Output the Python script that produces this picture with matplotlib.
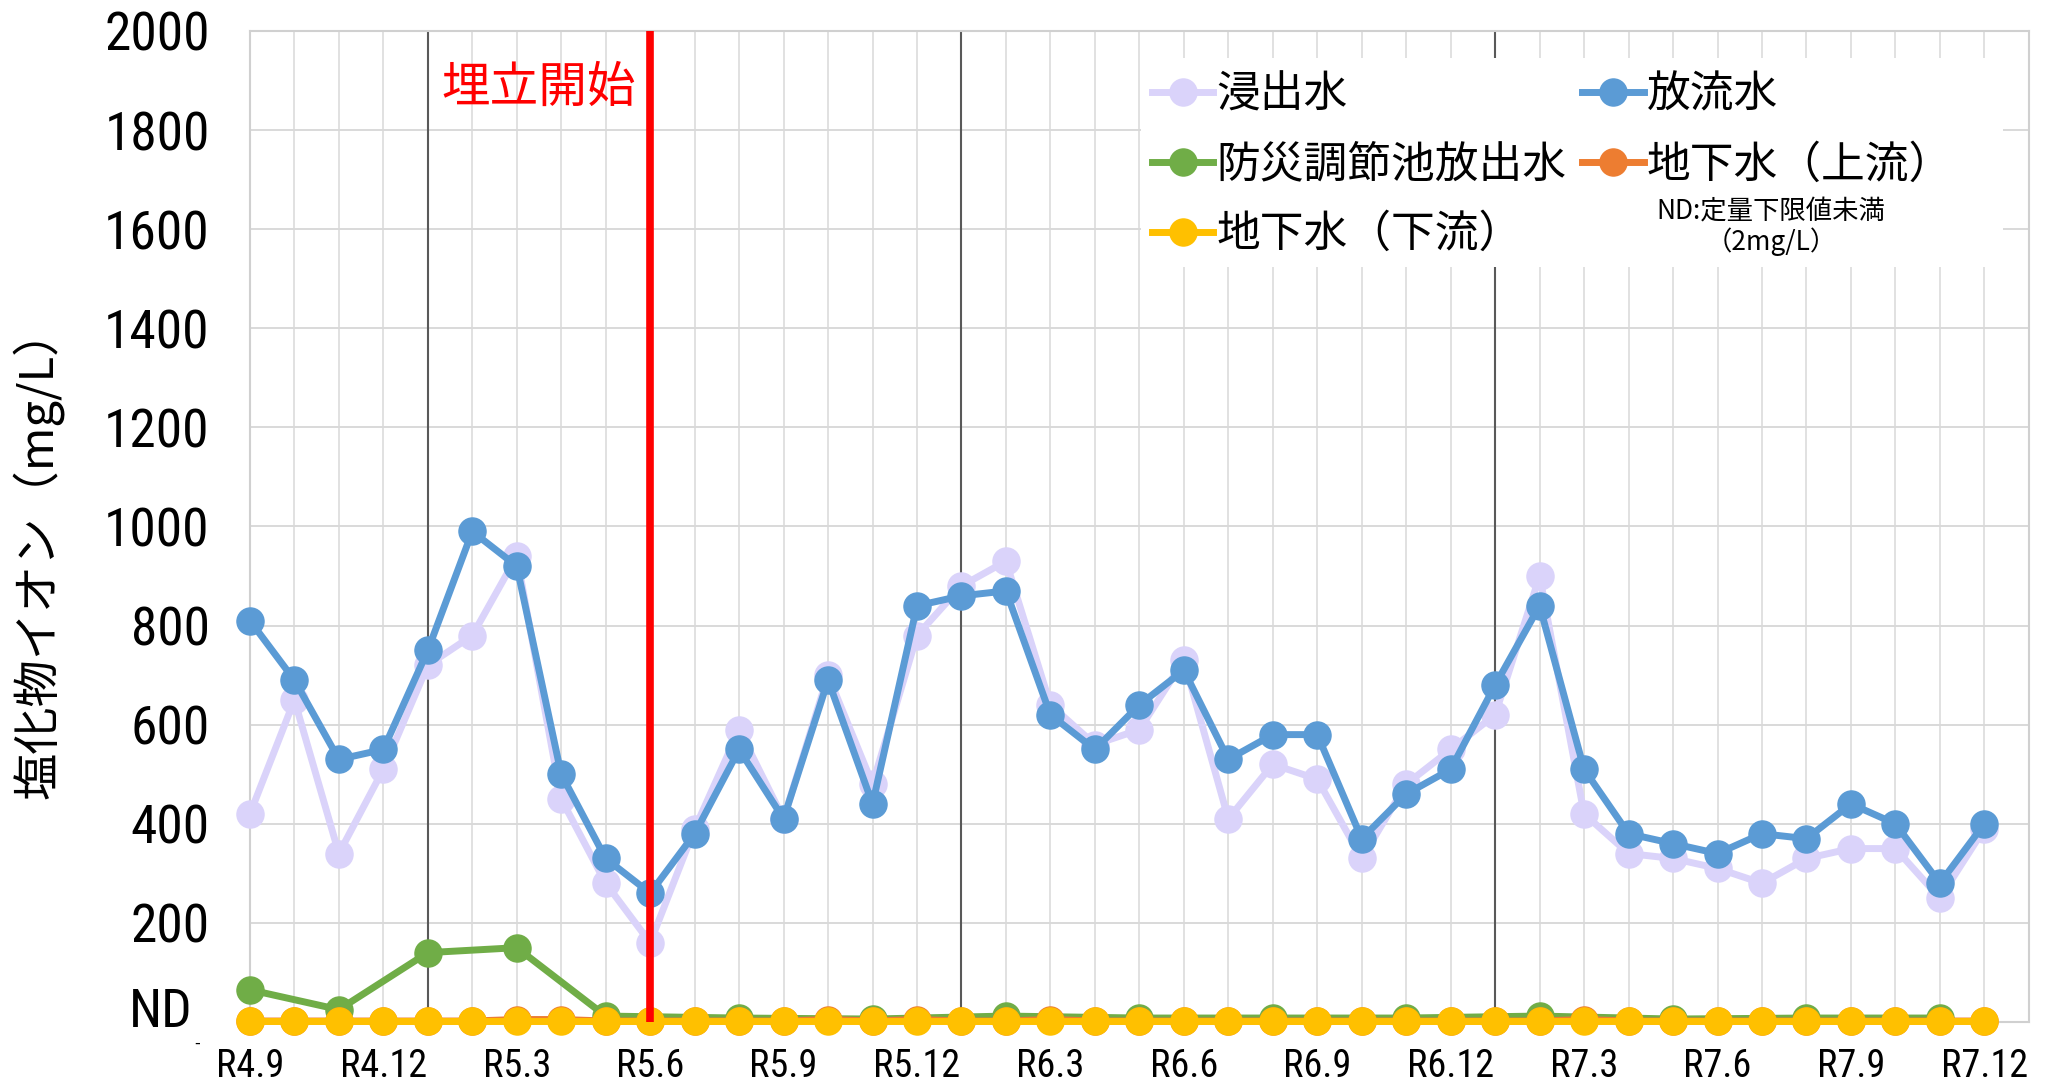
import matplotlib.pyplot as plt
from matplotlib import font_manager as fm
from matplotlib.patches import Rectangle
from matplotlib.textpath import TextPath

# ---------------------------------------------------------------- style
LAV, BLUE, GREEN = '#DAD3FA', '#5B9BD5', '#70AD47'
ORANGE, YELLOW, RED = '#ED7D31', '#FFC000', '#FF0000'
GRID, DARK = '#D9D9D9', '#595959'

plt.rcParams['font.family'] = ['Noto Sans CJK JP', 'DejaVu Sans']


def pick_narrow(target=2.41):
    """Installed sans font whose digits are closest to the narrow look."""
    base = ('Liberation Sans', 'DejaVu Sans', 'Noto Sans', 'Roboto',
            'Open Sans', 'Lato', 'Inter')
    best = None
    for f in fm.fontManager.ttflist:
        name = f.name
        plain = name in base
        narrow = (name.startswith(base) and ('Condensed' in name or 'Narrow' in name))
        if not (plain or narrow) or 'Mono' in name:
            continue
        if f.style != 'normal' or f.weight not in (400, 'normal', 'regular'):
            continue
        try:
            prop = fm.FontProperties(fname=f.fname)
            bb = TextPath((0, 0), '2000', size=100, prop=prop).get_extents()
        except Exception:
            continue
        if bb.height <= 0:
            continue
        score = abs(bb.width / bb.height - target)
        if best is None or score < best[0]:
            best = (score, f.fname, bb.height / 100)
    return best[1], best[2]


NUM_FILE, CAP = pick_narrow()


def num_font(cap_px):
    return fm.FontProperties(fname=NUM_FILE, size=cap_px / CAP * 0.72)


# ---------------------------------------------------------------------- data
ND = 2   # 定量下限値 (2mg/L) -> plotted at the limit
months = ([f'R4.{m}' for m in range(9, 13)] + [f'R5.{m}' for m in range(1, 13)]
          + [f'R6.{m}' for m in range(1, 13)] + [f'R7.{m}' for m in range(1, 13)])
tick_labels = months[::3]
year_start = ['R5.1', 'R6.1', 'R7.1']
landfill_start = 'R5.6'

leach = [420, 650, 340, 510, 720, 780, 940, 450, 280, 160,
         390, 590, 410, 700, 480, 780, 880, 930, 640, 560,
         590, 730, 410, 520, 490, 330, 480, 550, 620, 900,
         420, 340, 330, 310, 280, 330, 350, 350, 250, 390]
discharge = [810, 690, 530, 550, 750, 990, 920, 500, 330, 260,
             380, 550, 410, 690, 440, 840, 860, 870, 620, 550,
             640, 710, 530, 580, 580, 370, 460, 510, 680, 840,
             510, 380, 360, 340, 380, 370, 440, 400, 280, 400]
pond = [65, None, 25, None, 140, None, 150, None, 12, None,
        None, 8, None, None, 6, None, None, 12, None, None,
        8, None, None, 8, None, None, 8, None, None, 12,
        None, None, 6, None, None, 8, None, None, 8, None]
gw_up = [ND, ND, ND, ND, ND, ND, 5, 5, ND, ND,
         ND, ND, ND, 5, ND, 5, ND, ND, 5, ND,
         ND, ND, ND, ND, ND, ND, ND, ND, ND, ND,
         5, ND, ND, ND, ND, ND, ND, ND, ND, ND]
gw_down = [ND] * len(months)

# ---------------------------------------------------------------------- plot
fig = plt.figure(figsize=(20.57, 10.87), dpi=100)
ax = fig.add_axes([0.1215, 0.0598, 0.8648, 0.9117])

x = list(range(len(months)))
style = dict(lw=5, marker='o', ms=19.5, clip_on=False)
h_leach, = ax.plot(x, leach, color=LAV, mec=LAV, zorder=3, **style)
h_dis, = ax.plot(x, discharge, color=BLUE, mec=BLUE, zorder=4, **style)
gx = [i for i, v in enumerate(pond) if v is not None]
gy = [v for v in pond if v is not None]
h_pond, = ax.plot(gx, gy, color=GREEN, mec=GREEN, zorder=5, **style)
h_up, = ax.plot(x, gw_up, color=ORANGE, mec=ORANGE, zorder=6, **style)
h_down, = ax.plot(x, gw_down, color=YELLOW, mec=YELLOW, zorder=7, **style)

for m in year_start:
    ax.axvline(months.index(m), color=DARK, lw=1.5, zorder=1.5)
ax.axvline(months.index(landfill_start), color=RED, lw=5.5, zorder=10)
ax.text(months.index(landfill_start) - 0.32, 1885, '埋立開始', color=RED,
        fontsize=35, ha='right', va='center', zorder=11)

ax.set_xlim(0, len(months))
ax.set_ylim(0, 2000)
ax.set_xticks(x[::3])
ax.set_xticklabels(tick_labels, fontproperties=num_font(28))
ax.set_xticks(range(len(months) + 1), minor=True)
ax.set_yticks(range(200, 2001, 200))
ax.set_yticklabels([str(v) for v in range(200, 2001, 200)],
                   fontproperties=num_font(39))
ax.tick_params(axis='both', which='both', length=0)
ax.tick_params(axis='x', pad=19)
ax.tick_params(axis='y', pad=29)
ax.grid(axis='x', which='both', color=GRID, lw=1.1)
ax.grid(axis='y', which='major', color=GRID, lw=1.4)
ax.set_axisbelow(True)
for s in ax.spines.values():
    s.set_color('#D0D0D0')
    s.set_linewidth(1.5)

fig.text(0.0938, 0.0552, 'ND', fontproperties=num_font(39), ha='right',
         va='baseline')
fig.text(0.0958, 0.0405, '-', fontsize=12, ha='center', va='center')
fig.text(0.018, 0.491, '塩化物イオン（mg/L）', rotation=90, fontsize=34,
         ha='center', va='center')

# ------------------------------------------------------------------ legend
ax.add_patch(Rectangle((0.5008, 0.7619), 0.4846, 0.2109, transform=ax.transAxes,
                       facecolor='white', edgecolor='none', zorder=2.5))
ax.legend([h_leach, h_pond, h_down, h_dis, h_up],
          ['浸出水', '防災調節池放出水', '地下水（下流）', '放流水', '地下水（上流）'],
          ncol=2, loc='upper left', bbox_to_anchor=(0.56, 0.934),
          bbox_transform=fig.transFigure, frameon=False, fontsize=31.5,
          handlelength=1.4, handletextpad=0.07, columnspacing=0.37,
          labelspacing=0.54, borderpad=0, borderaxespad=0)
ax.text(0.861, 0.791, 'ND:定量下限値未満\n（2mg/L）', transform=fig.transFigure,
        fontsize=19, ha='center', va='center', linespacing=1.1, zorder=12)

fig.savefig('out.png', dpi=100, facecolor='white')
